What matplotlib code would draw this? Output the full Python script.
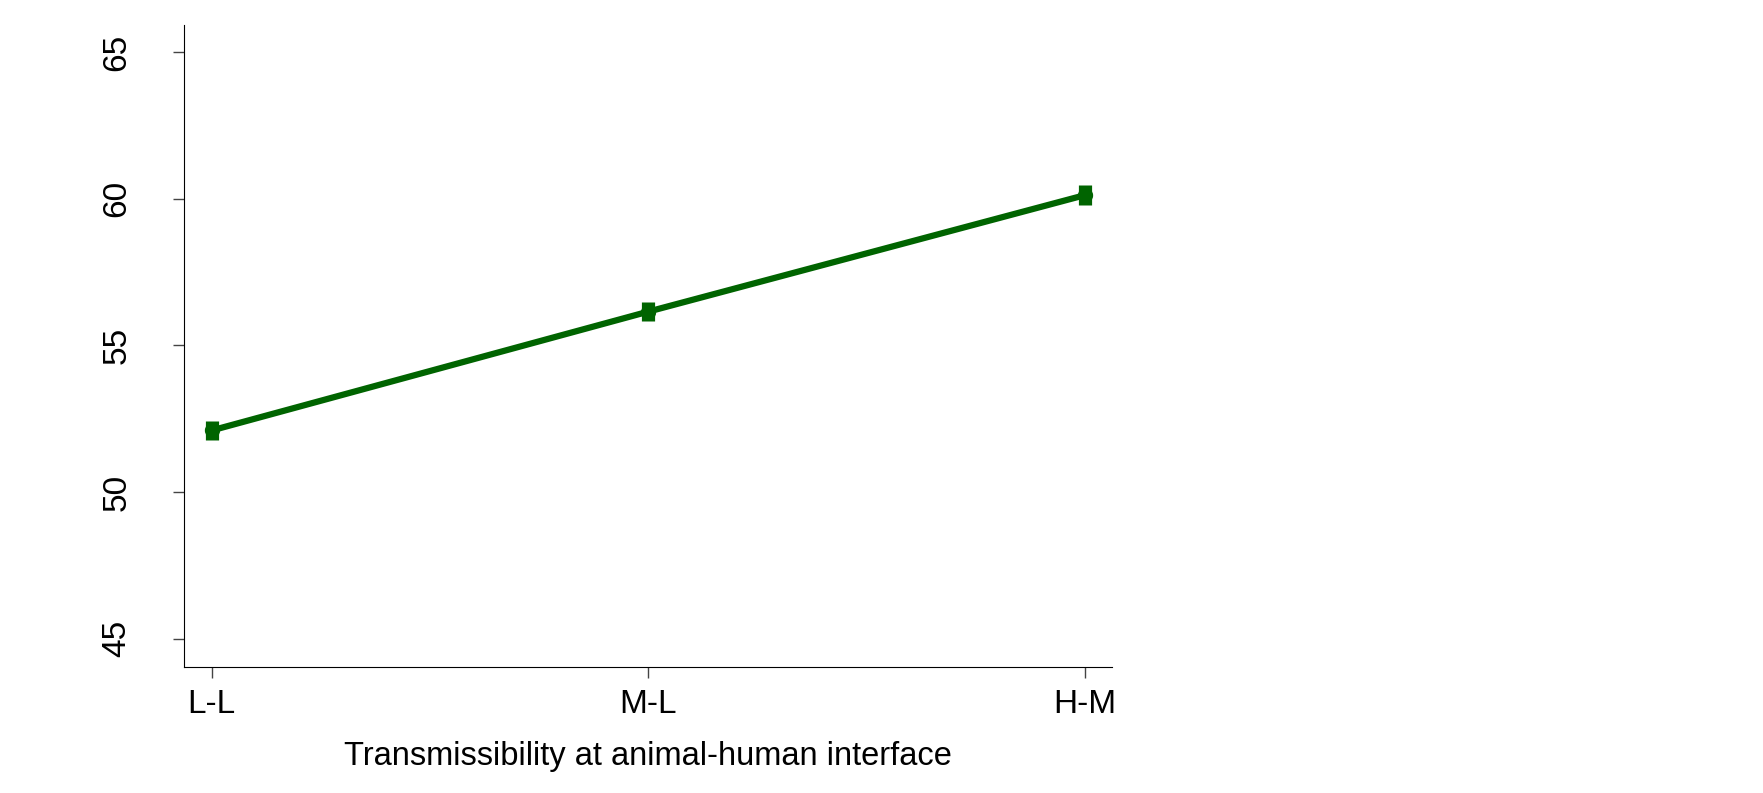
import matplotlib
matplotlib.use("Agg")
import matplotlib.pyplot as plt

# data
groups = ["L-L", "M-L", "H-M"]
means = [52.1, 56.15, 60.12]
ci_half = [0.33, 0.33, 0.33]

plt.rcParams['font.family'] = ['Liberation Sans', 'DejaVu Sans']

green = '#006400'

fig = plt.figure(figsize=(17.63, 7.93), dpi=100)
ax = fig.add_axes([0.1044, 0.1593, 0.5263, 0.8092])

x = list(range(len(groups)))
ax.plot(x, means, color=green, lw=4.5, solid_capstyle='butt', zorder=2)
ax.errorbar(x, means, yerr=ci_half, fmt='none', ecolor=green,
            elinewidth=9.5, capsize=0, zorder=3)
ax.plot(x, means, 'o', color=green, ms=10, zorder=4)

ax.set_xlim(-0.063, 2.062)
ax.set_ylim(44.05, 65.92)
ax.set_xticks(x)
ax.set_xticklabels(groups)
ax.set_yticks([45, 50, 55, 60, 65])
for lab in ax.get_yticklabels():
    lab.set_rotation(90)
    lab.set_va('center')

ax.spines['top'].set_visible(False)
ax.spines['right'].set_visible(False)
ax.tick_params(axis='both', length=8, width=1, color='#444444', labelsize=24, pad=8)
ax.tick_params(axis='y', pad=29)

ax.set_xlabel('Transmissibility at animal-human interface', fontsize=23.5, labelpad=15)

fig.savefig('out.png', dpi=100)
